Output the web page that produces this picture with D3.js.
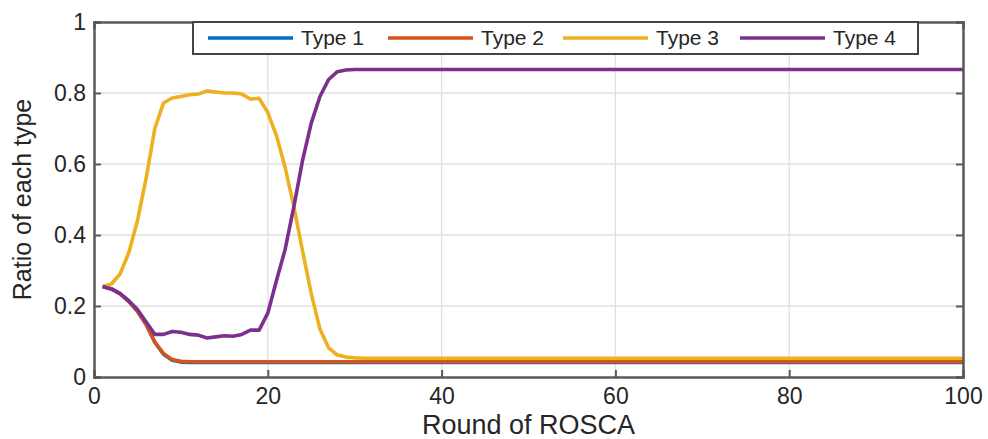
<!DOCTYPE html>
<html>
<head>
<meta charset="utf-8">
<script src="https://d3js.org/d3.v7.min.js"></script>
<style>
  body { margin: 0; background: #fff; }
  text { font-family: "Liberation Sans", Arial, sans-serif; fill: #262626; }
</style>
</head>
<body>
<div id="chart"></div>
<script>
var rounds = [1,2,3,4,5,6,7,8,9,10,11,12,13,14,15,16,17,18,19,20,21,22,23,24,25,26,27,28,29,30,31,32,35,40,50,60,70,80,90,100];

var type1 = [0.255,0.248,0.235,0.213,0.185,0.148,0.098,0.064,0.047,0.042,0.041,0.041,0.041,0.041,0.041,0.041,0.041,0.041,0.041,0.041,0.041,0.041,0.041,0.041,0.041,0.041,0.041,0.041,0.041,0.041,0.041,0.041,0.041,0.041,0.041,0.041,0.041,0.041,0.041,0.041];
var type2 = [0.255,0.248,0.235,0.213,0.185,0.148,0.098,0.066,0.049,0.044,0.043,0.043,0.043,0.043,0.043,0.043,0.043,0.043,0.043,0.043,0.043,0.043,0.043,0.043,0.043,0.043,0.043,0.043,0.043,0.043,0.043,0.043,0.043,0.043,0.043,0.043,0.043,0.043,0.043,0.043];
var type3 = [0.255,0.262,0.29,0.35,0.44,0.56,0.70,0.772,0.786,0.79,0.795,0.797,0.806,0.803,0.80,0.80,0.797,0.783,0.785,0.745,0.68,0.59,0.48,0.355,0.235,0.135,0.082,0.062,0.056,0.054,0.053,0.053,0.053,0.053,0.053,0.053,0.053,0.053,0.053,0.053];
var type4 = [0.255,0.248,0.235,0.215,0.19,0.155,0.12,0.12,0.128,0.126,0.12,0.118,0.11,0.113,0.116,0.115,0.12,0.132,0.132,0.18,0.272,0.36,0.48,0.61,0.715,0.79,0.838,0.86,0.865,0.866,0.866,0.866,0.866,0.866,0.866,0.866,0.866,0.866,0.866,0.866];

var names = ["Type 1", "Type 2", "Type 3", "Type 4"];
var colors = ["#0072BD", "#D95319", "#EDB120", "#7E2F8E"];
var xTicks = [0, 20, 40, 60, 80, 100];
var yTicks = [0, 0.2, 0.4, 0.6, 0.8, 1];

var width = 988, height = 439;
var margin = {top: 22, right: 25, bottom: 62, left: 94};

var svg = d3.select("#chart").append("svg")
    .attr("width", width)
    .attr("height", height);

var x = d3.scaleLinear().domain([0, 100]).range([margin.left, width - margin.right]);
var y = d3.scaleLinear().domain([0, 1]).range([height - margin.bottom, margin.top]);

// grid
svg.append("g").selectAll("line").data(yTicks.slice(1, -1)).enter().append("line")
    .attr("x1", x(0)).attr("x2", x(100))
    .attr("y1", d => y(d)).attr("y2", d => y(d))
    .attr("stroke", "#e0e0e0").attr("stroke-width", 1.3);
svg.append("g").selectAll("line").data(xTicks.slice(1, -1)).enter().append("line")
    .attr("x1", d => x(d)).attr("x2", d => x(d))
    .attr("y1", y(0)).attr("y2", y(1))
    .attr("stroke", "#e0e0e0").attr("stroke-width", 1.3);

// series
var series = [type1, type2, type3, type4];
var line = d3.line()
    .x((d, i) => x(rounds[i]))
    .y(d => y(d));

var plot = svg.append("g");
series.forEach(function(s, k) {
  plot.append("path")
      .datum(s)
      .attr("d", line)
      .attr("fill", "none")
      .attr("stroke", colors[k])
      .attr("stroke-width", 3.6)
      .attr("stroke-linejoin", "round");
});

// axes, ticks pointing inward like matlab
var axisColor = "#5a5a5a";
var xAxis = d3.axisBottom(x).tickValues(xTicks).tickSize(-7).tickPadding(11).tickFormat(d3.format("d"));
var yAxis = d3.axisLeft(y).tickValues(yTicks).tickSize(-7).tickPadding(8).tickFormat(d => d === 0 || d === 1 ? d : d3.format(".1f")(d));

var gx = svg.append("g").attr("transform", "translate(0," + y(0) + ")").call(xAxis);
var gy = svg.append("g").attr("transform", "translate(" + x(0) + ",0)").call(yAxis);
var gx2 = svg.append("g").attr("transform", "translate(0," + y(1) + ")").call(d3.axisTop(x).tickValues(xTicks).tickSize(-7).tickFormat(""));
var gy2 = svg.append("g").attr("transform", "translate(" + x(100) + ",0)").call(d3.axisRight(y).tickValues(yTicks).tickSize(-7).tickFormat(""));

[gx, gy, gx2, gy2].forEach(function(g) {
  g.select(".domain").attr("stroke", axisColor).attr("stroke-width", 2.5);
  g.selectAll(".tick line").attr("stroke", axisColor).attr("stroke-width", 2);
  g.selectAll(".tick text").style("font-size", "23px").attr("fill", "#333");
});

// axis labels
svg.append("text")
    .attr("x", (x(0) + x(100)) / 2)
    .attr("y", 434)
    .attr("text-anchor", "middle")
    .style("font-size", "27px")
    .attr("fill", "#333")
    .text("Round of ROSCA");

svg.append("text")
    .attr("transform", "translate(31," + (y(0) + y(1)) / 2 + ") rotate(-90)")
    .attr("text-anchor", "middle")
    .style("font-size", "25px")
    .attr("fill", "#333")
    .text("Ratio of each type");

// legend
var legend = svg.append("g");
legend.append("rect")
    .attr("x", 193).attr("y", 22)
    .attr("width", 725).attr("height", 32)
    .attr("fill", "#fff")
    .attr("stroke", "#444").attr("stroke-width", 2);

var legX = [208, 388, 563, 740];
names.forEach(function(n, k) {
  legend.append("line")
      .attr("x1", legX[k]).attr("x2", legX[k] + 85)
      .attr("y1", 38).attr("y2", 38)
      .attr("stroke", colors[k]).attr("stroke-width", 3.6);
  legend.append("text")
      .attr("x", legX[k] + 93)
      .attr("y", 45)
      .style("font-size", "21px")
      .text(n);
});
</script>
</body>
</html>
